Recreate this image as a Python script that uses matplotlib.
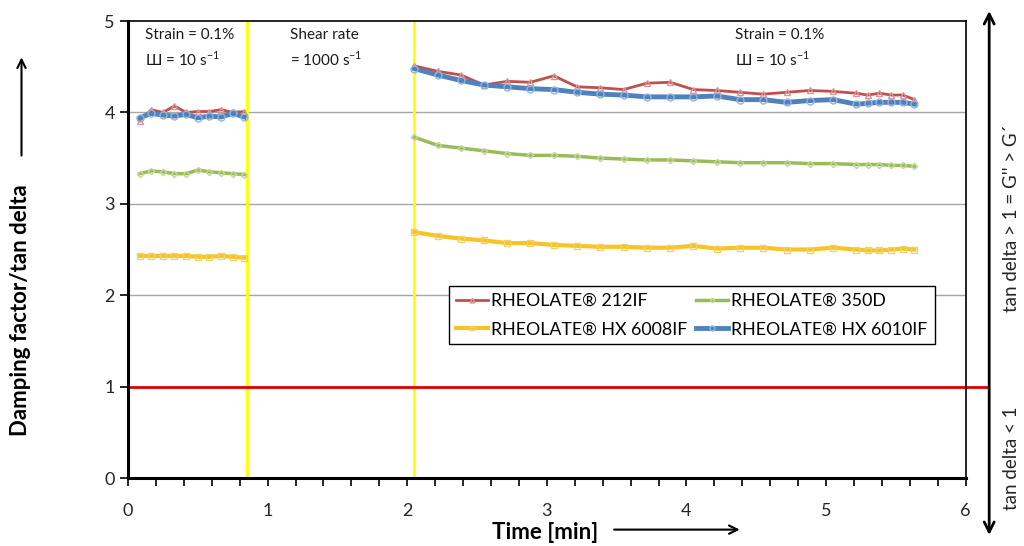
import matplotlib
matplotlib.use("Agg")
import matplotlib.pyplot as plt
from matplotlib.ticker import MultipleLocator

plt.rcParams['font.family'] = ['Lato', 'DejaVu Sans']
plt.rcParams['mathtext.fontset'] = 'custom'
plt.rcParams['mathtext.rm'] = 'Lato'

# time axes [min] for the two oscillation steps
t_first = [0.083, 0.167, 0.25, 0.333, 0.417, 0.5, 0.583, 0.667, 0.75, 0.833]
t_second = [2.05, 2.217, 2.383, 2.55, 2.717, 2.883, 3.05, 3.217, 3.383, 3.55,
            3.717, 3.883, 4.05, 4.217, 4.383, 4.55, 4.717, 4.883, 5.05, 5.217,
            5.30, 5.383, 5.467, 5.55, 5.633]

red_1 = [3.91, 4.03, 4.00, 4.07, 4.00, 4.01, 4.01, 4.03, 4.00, 4.01]
green_1 = [3.33, 3.36, 3.35, 3.33, 3.33, 3.37, 3.35, 3.34, 3.33, 3.32]
yellow_1 = [2.43, 2.43, 2.43, 2.43, 2.43, 2.42, 2.42, 2.43, 2.42, 2.41]
blue_1 = [3.94, 3.99, 3.97, 3.96, 3.98, 3.94, 3.96, 3.95, 3.99, 3.95]

red_2 = [4.51, 4.45, 4.41, 4.30, 4.34, 4.33, 4.40, 4.28, 4.27, 4.25,
         4.32, 4.33, 4.25, 4.24, 4.22, 4.20, 4.22, 4.24, 4.23, 4.21,
         4.19, 4.21, 4.19, 4.19, 4.14]
green_2 = [3.73, 3.64, 3.61, 3.58, 3.55, 3.53, 3.53, 3.52, 3.50, 3.49,
           3.48, 3.48, 3.47, 3.46, 3.45, 3.45, 3.45, 3.44, 3.44, 3.43,
           3.43, 3.43, 3.42, 3.42, 3.41]
yellow_2 = [2.69, 2.65, 2.62, 2.60, 2.57, 2.57, 2.55, 2.54, 2.53, 2.53,
            2.52, 2.52, 2.54, 2.51, 2.52, 2.52, 2.50, 2.50, 2.52, 2.50,
            2.49, 2.49, 2.50, 2.51, 2.50]
blue_2 = [4.48, 4.41, 4.35, 4.30, 4.28, 4.26, 4.25, 4.22, 4.20, 4.19,
          4.17, 4.17, 4.17, 4.18, 4.14, 4.14, 4.11, 4.13, 4.14, 4.09,
          4.10, 4.11, 4.11, 4.11, 4.09]

names = ['RHEOLATE® 212IF', 'RHEOLATE® 350D', 'RHEOLATE® HX 6008IF', 'RHEOLATE® HX 6010IF']
step_ends = [0.85, 2.05]

series = [
    (red_1, red_2, '#C0504D', '#D99694', '^', 2.0, 5),
    (green_1, green_2, '#9BBB59', '#C3D69B', 'D', 2.5, 3.2),
    (yellow_1, yellow_2, '#F7C325', '#EDD36A', 's', 3.0, 5),
    (blue_1, blue_2, '#4F81BD', '#95B3D7', 'o', 3.5, 5),
]

fig = plt.figure(figsize=(10.24, 5.46), dpi=100)
ax = fig.add_axes([0.125, 0.1245, 0.818, 0.837])

for g in [2, 3, 4]:
    ax.axhline(g, color='#A6A6A6', lw=1, zorder=1)

handles = []
for (s1, s2, col, mcol, mk, lw, ms), name in zip(series, names):
    ax.plot(t_first, s1, color=col, lw=lw, marker=mk, ms=ms, mfc='none',
            mec=mcol, mew=1, zorder=3)
    h, = ax.plot(t_second, s2, color=col, lw=lw, marker=mk, ms=ms, mfc='none',
                 mec=mcol, mew=1, zorder=3, label=name)
    handles.append(h)

for x in step_ends:
    ax.axvline(x, color='#FFFF00', lw=2, zorder=2)

# tan delta = 1 line, runs out to the arrow on the right
ax.plot([0, 6.15], [1, 1], color='#DD0000', lw=2, clip_on=False, zorder=2)

ax.set_xlim(0, 6)
ax.set_ylim(0, 5)
ax.xaxis.set_major_locator(MultipleLocator(1))
ax.xaxis.set_minor_locator(MultipleLocator(0.2))
ax.yaxis.set_major_locator(MultipleLocator(1))
ax.tick_params(axis='both', which='major', labelsize=13, color='black',
               length=6, width=1.2, direction='out', colors='#262626')
ax.tick_params(axis='x', which='minor', length=6, width=1.2, color='black')
ax.tick_params(axis='x', pad=12)
for sp in ['left', 'bottom']:
    ax.spines[sp].set_linewidth(2.2)
for sp in ['top', 'right']:
    ax.spines[sp].set_linewidth(1.2)

sup = r'$^{\mathregular{-1}}$'
txt = dict(fontsize=11, va='top', ha='left', linespacing=1.5, color='#1a1a1a')
ax.text(0.12, 4.92, 'Strain = 0.1%\nШ = 10 s' + sup, **txt)
ax.text(1.16, 4.92, 'Shear rate\n= 1000 s' + sup, **txt)
ax.text(4.35, 4.92, 'Strain = 0.1%\nШ = 10 s' + sup, **txt)

# legend filled column-wise, so reorder to get the reference rows
leg_order = [0, 2, 1, 3]
leg = ax.legend(handles=[handles[i] for i in leg_order], ncol=2, loc='upper left',
                bbox_to_anchor=(0.373, 0.44), fontsize=12.8,
                frameon=True, fancybox=False, edgecolor='black', framealpha=1,
                handlelength=1.8, handletextpad=0.15, columnspacing=0.5,
                borderpad=0.4, labelspacing=0.7, markerscale=0.7)
leg.get_frame().set_linewidth(1)

# axis labels with arrows
fig.text(0.02, 0.432, 'Damping factor/tan delta', rotation=90, ha='center',
         va='center', fontsize=16, fontweight='bold', color='black')
fig.add_artist(matplotlib.patches.FancyArrowPatch(
    (0.021, 0.71), (0.021, 0.9), transform=fig.transFigure,
    arrowstyle='->', mutation_scale=15, lw=1.5, color='black'))
fig.text(0.532, 0.024, 'Time [min]', ha='center', va='center', fontsize=16,
         fontweight='bold')
fig.add_artist(matplotlib.patches.FancyArrowPatch(
    (0.597, 0.03), (0.725, 0.03), transform=fig.transFigure,
    arrowstyle='->', mutation_scale=15, lw=1.5, color='black'))

# right hand side tan delta scale
fig.add_artist(matplotlib.patches.FancyArrowPatch(
    (0.966, 0.015), (0.966, 0.985), transform=fig.transFigure,
    arrowstyle='<->', mutation_scale=18, lw=2, color='black'))
fig.text(0.988, 0.6, "tan delta > 1 = G'' > G´", rotation=90, ha='center',
         va='center', fontsize=13.5, color='#262626')
fig.text(0.988, 0.16, 'tan delta < 1', rotation=90, ha='center',
         va='center', fontsize=13.5, color='#262626')

fig.savefig('out.png', dpi=100)
